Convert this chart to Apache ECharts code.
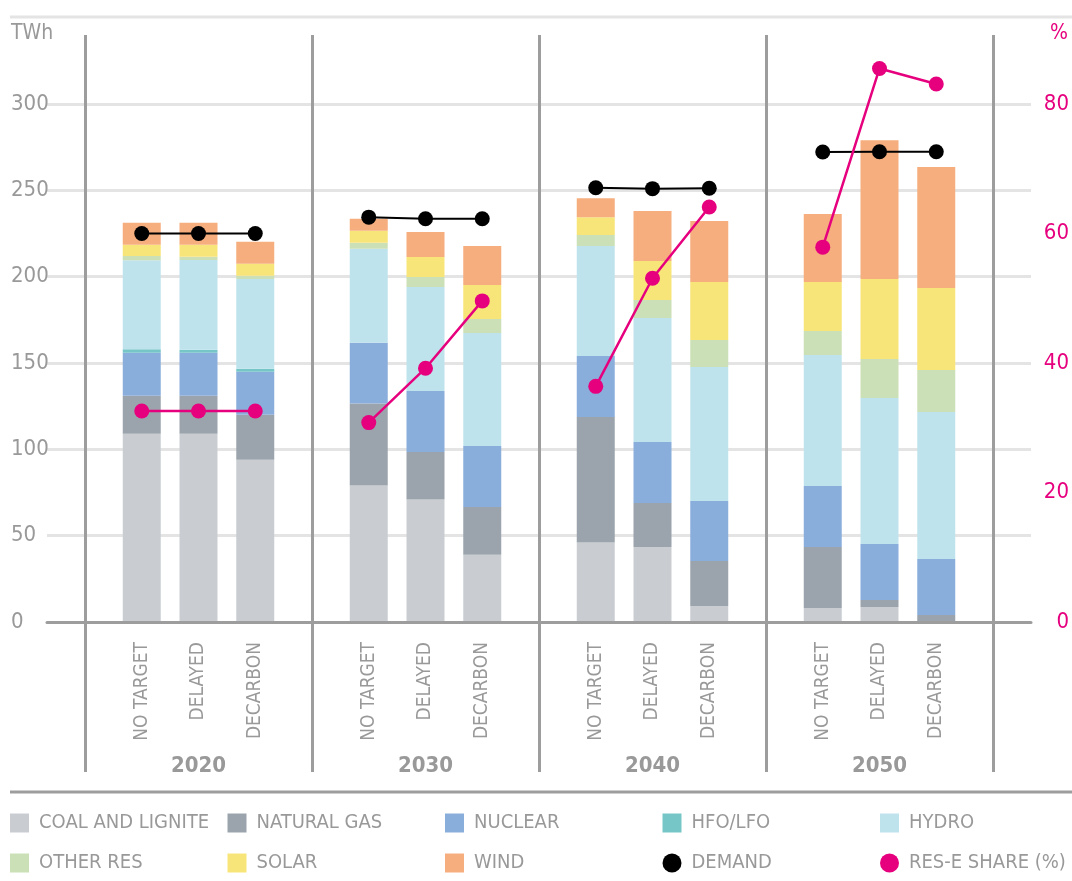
<!DOCTYPE html>
<html><head><meta charset="utf-8">
<script src="https://cdn.jsdelivr.net/npm/echarts@6/dist/echarts.min.js"></script>
<style>html,body{margin:0;padding:0;background:#fff}#c{width:1072px;height:881px}</style>
</head><body><div id="c"></div>
<script>
// ---- data ----
const years = ['2020', '2030', '2040', '2050'];
const scenarios = ['NO TARGET', 'DELAYED', 'DECARBON'];
const coal     = [109, 109, 94,   79, 71, 39,     46, 43.4, 9.3,   8.1, 8.7, 0];
const gas      = [22, 22, 26,     47.5, 27.5, 27.6, 72.7, 25.5, 26, 35.3, 4, 4];
const nuclear  = [25, 25, 25,     35.3, 35.3, 35.3, 35.4, 35.3, 34.8, 35.4, 32.5, 32.5];
const hfo      = [2, 1.7, 1.7,    0, 0, 0,        0, 0, 0,         0, 0, 0];
const hydro    = [51.5, 52, 52,   54.4, 60.2, 65.5, 63.7, 71.9, 77.6, 75.8, 84.5, 85.1];
const otherRes = [2.5, 1.8, 1.8,  3.5, 5.8, 8.1,  6.3, 10.4, 15.6,  13.9, 22.6, 24.3];
const solar    = [6.5, 7, 7,      6.9, 11.6, 19.7, 10.4, 22.6, 33.6, 28.4, 46.3, 47.5];
const wind     = [12.8, 12.8, 12.7, 7, 14.5, 22.6, 11, 28.9, 35.3,  39.4, 80.5, 70.1];
const demand   = [225, 225, 225,  234.5, 233.6, 233.6, 251.5, 251, 251.2, 272.2, 272.4, 272.4];
const resShare = [32.6, 32.6, 32.6, 30.8, 39.2, 49.6, 36.4, 53.1, 64.1, 57.9, 85.5, 83.1];
const twhTicks = [0, 50, 100, 150, 200, 250, 300];
const pctTicks = [0, 20, 40, 60, 80];

// ---- helpers ----
const F = '"Liberation Sans Narrow", "DejaVu Sans Condensed", "Roboto Condensed", sans-serif';
const GREY = '#999999', AX = '#9d9d9d', GRID = '#e4e4e4', PINK = '#e6007e';
const cats = [];
years.forEach(() => { cats.push(''); scenarios.forEach(s => cats.push(s)); });
cats.push('');
const yearCats = cats.map((c, i) => (i % 4 === 2 ? years[(i - 2) / 4] : ''));
function expand(arr) {
  const out = [];
  years.forEach((y, g) => { out.push(null); for (let k = 0; k < 3; k++) out.push(arr[g * 3 + k]); });
  out.push(null);
  return out;
}
const twhMax = 340;
const twhStep = twhTicks[1] - twhTicks[0];
const pctStep = pctTicks[1] - pctTicks[0];
const pctMax = twhMax * pctTicks[pctTicks.length - 1] / twhTicks[twhTicks.length - 1];
const divider = (i) => i % 4 === 0;

const barDefs = [
  ['COAL AND LIGNITE', coal, '#c9cdd2'],
  ['NATURAL GAS', gas, '#9ba4ac'],
  ['NUCLEAR', nuclear, '#8aaedb'],
  ['HFO/LFO', hfo, '#76c6c8'],
  ['HYDRO', hydro, '#bfe3ec'],
  ['OTHER RES', otherRes, '#cbe0b6'],
  ['SOLAR', solar, '#f8e57a'],
  ['WIND', wind, '#f6ae7e']
];
const series = barDefs.map(([name, arr, color]) => ({
  name, type: 'bar', stack: 'total', xAxisIndex: 0, yAxisIndex: 2,
  barWidth: 38, data: expand(arr), itemStyle: { color }
}));
series.push({
  name: 'DEMAND', type: 'line', xAxisIndex: 0, yAxisIndex: 2, data: expand(demand),
  symbol: 'circle', symbolSize: 15, itemStyle: { color: '#000' },
  lineStyle: { color: '#000', width: 2 }, z: 5
});
series.push({
  name: 'RES-E SHARE (%)', type: 'line', xAxisIndex: 0, yAxisIndex: 3, data: expand(resShare),
  symbol: 'circle', symbolSize: 15, itemStyle: { color: PINK },
  lineStyle: { color: PINK, width: 2.5 }, z: 6
});

const legendRows = [
  ['COAL AND LIGNITE', 'NATURAL GAS', 'NUCLEAR', 'HFO/LFO', 'HYDRO'],
  ['OTHER RES', 'SOLAR', 'WIND', 'DEMAND', 'RES-E SHARE (%)']
];
const lineNames = ['DEMAND', 'RES-E SHARE (%)'];
const legends = [];
legendRows.forEach((row, r) => row.forEach((n, c) => {
  legends.push({
    orient: 'horizontal', left: 10 + c * 217.5, top: 813 + r * 40, padding: 0,
    itemWidth: 19, itemHeight: 19,
    textStyle: { color: GREY, fontSize: 20, fontFamily: F, padding: [0, 0, 0, 5] },
    data: [{ name: n, icon: lineNames.includes(n) ? 'circle' : 'rect' }]
  });
}));

const option = {
  animation: false,
  backgroundColor: '#fff',
  grid: [
    { left: 85, right: 79, top: 35, bottom: 259 },
    { left: 47, right: 40, top: 35, bottom: 259 }
  ],
  legend: legends,
  xAxis: [
    {
      gridIndex: 0, type: 'category', data: cats, boundaryGap: false,
      axisLine: { show: false },
      axisTick: { show: true, interval: divider, length: 150, lineStyle: { color: AX, width: 3 } },
      splitLine: { show: true, interval: divider, lineStyle: { color: AX, width: 3 } },
      axisLabel: { interval: 0, rotate: 90, margin: 20, color: GREY, fontSize: 19, fontFamily: F }
    },
    {
      gridIndex: 0, type: 'category', data: yearCats, boundaryGap: false, position: 'bottom',
      axisLine: { show: false }, axisTick: { show: false }, splitLine: { show: false },
      axisLabel: { interval: 0, margin: 133, color: GREY, fontSize: 22, fontWeight: 'bold', fontFamily: F }
    },
    {
      gridIndex: 1, type: 'value', min: 0, max: 1, z: 5,
      axisLine: { show: true, lineStyle: { color: AX, width: 3 } },
      axisTick: { show: false }, axisLabel: { show: false }, splitLine: { show: false }
    }
  ],
  yAxis: [
    {
      gridIndex: 1, type: 'value', min: 0, max: twhMax, interval: twhStep, position: 'left',
      axisLine: { show: false }, axisTick: { show: false },
      axisLabel: {
        color: GREY, fontSize: 22, fontFamily: F, align: 'left', margin: 36, showMaxLabel: false,
        formatter: v => (twhTicks.includes(v) ? String(v) : '')
      },
      splitLine: { show: true, showMaxLine: false, lineStyle: { color: GRID, width: 3 } }
    },
    {
      gridIndex: 1, type: 'value', min: 0, max: pctMax, interval: pctStep, position: 'right',
      axisLine: { show: false }, axisTick: { show: false }, splitLine: { show: false },
      axisLabel: {
        color: PINK, fontSize: 22, fontFamily: F, align: 'right', margin: 38, showMaxLabel: false,
        formatter: v => (pctTicks.includes(Math.round(v * 1000) / 1000) ? String(v) : '')
      }
    },
    { gridIndex: 0, type: 'value', min: 0, max: twhMax, show: false },
    { gridIndex: 0, type: 'value', min: 0, max: pctMax, show: false }
  ],
  graphic: [
    { type: 'line', shape: { x1: 10, y1: 17, x2: 1072, y2: 17 }, style: { stroke: GRID, lineWidth: 3 }, silent: true },
    { type: 'line', shape: { x1: 10, y1: 792, x2: 1072, y2: 792 }, style: { stroke: AX, lineWidth: 3 }, silent: true },
    { type: 'text', left: 11, top: 23, style: { text: 'TWh', fill: GREY, fontSize: 21, fontFamily: F } },
    { type: 'text', right: 4, top: 23, style: { text: '%', fill: PINK, fontSize: 21, fontFamily: F } }
  ],
  series
};
const chart = echarts.init(document.getElementById('c'), null, { renderer: 'canvas' });
chart.setOption(option);
</script>
</body></html>
